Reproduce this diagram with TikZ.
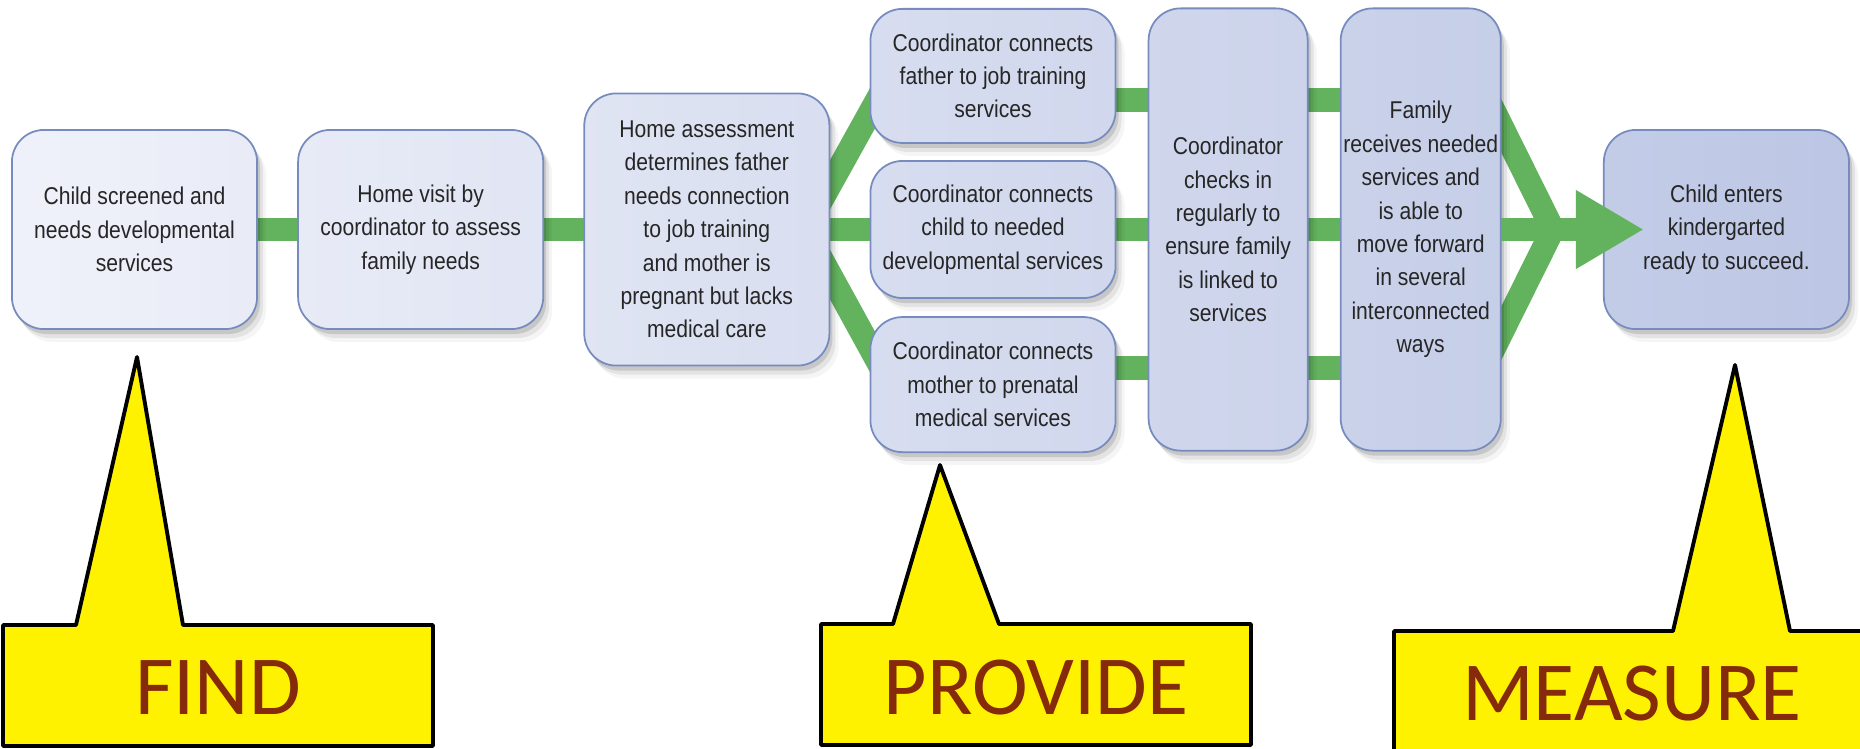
\documentclass[tikz,border=0pt]{standalone}
\usepackage{fontspec}
\newfontfamily\boxfont{Liberation Sans}[FakeStretch=0.87]
\newfontfamily\tagfont{Carlito}
\usetikzlibrary{positioning,backgrounds,shadows,arrows.meta}

\definecolor{boxhi}{RGB}{240,242,250}
\definecolor{boxlo}{RGB}{188,198,228}
\definecolor{boxedge}{RGB}{118,140,190}
\definecolor{boxtext}{RGB}{38,38,38}
\definecolor{linkgreen}{RGB}{98,178,94}
\definecolor{tagred}{RGB}{134,42,12}

\tikzset{
  boxshadow/.style={
    drop shadow={shadow xshift=0.03cm, shadow yshift=-0.05cm, opacity=0.12, fill=black},
    drop shadow={shadow xshift=0.06cm, shadow yshift=-0.09cm, opacity=0.07, fill=black},
    drop shadow={shadow xshift=0.09cm, shadow yshift=-0.13cm, opacity=0.04, fill=black}},
  stage/.style={draw=boxedge, line width=0.5pt, rounded corners=0.32cm, align=center,
    inner sep=0pt, outer sep=0pt, text=boxtext, font=\boxfont\fontsize{6.9pt}{9.5pt}\selectfont, boxshadow},
  boxtint/.style 2 args={left color=boxlo!#1!boxhi, right color=boxlo!#2!boxhi},
  wide/.style={minimum width=2.45cm},
  slim/.style={minimum width=1.59cm, minimum height=4.42cm},
  link/.style={draw=linkgreen, line width=6.8pt},
  tagbox/.style={fill=yellow, draw=black, line width=1.1pt, line join=round},
  tagtext/.style={text=tagred, font=\tagfont\fontsize{23.9pt}{28pt}\selectfont}
}

\begin{document}
\begin{tikzpicture}[x=0.01cm, y=-0.01cm]
  \useasboundingbox (0,0) rectangle (1860,748);
  \clip (0,0) rectangle (1860,748);

  % steps
  \node[stage, wide, boxtint={1}{14}, minimum height=1.99cm] (screen) at (134.5,229.5)
    {Child screened and\\needs developmental\\services};
  \node[stage, wide, boxtint={16}{29}, minimum height=1.99cm, right=0.41cm of screen] (visit)
    {Home visit by\\coordinator to assess\\family needs};
  \node[stage, wide, boxtint={31}{45}, minimum height=2.72cm, right=0.41cm of visit] (assess)
    {Home assessment\\determines father\\needs connection\\to job training\\and mother is\\pregnant but lacks\\medical care};
  \node[stage, wide, boxtint={47}{60}, minimum height=1.37cm, right=0.41cm of assess] (child)
    {Coordinator connects\\child to needed\\developmental services};
  \node[stage, wide, boxtint={47}{60}, minimum height=1.34cm, above=0.18cm of child] (father)
    {Coordinator connects\\father to job training\\services};
  \node[stage, wide, boxtint={47}{60}, minimum height=1.35cm, below=0.19cm of child] (mother)
    {Coordinator connects\\mother to prenatal\\medical services};
  \node[stage, slim, boxtint={62}{70}, right=0.33cm of child] (checkin)
    {Coordinator\\checks in\\regularly to\\ensure family\\is linked to\\services};
  \node[stage, slim, boxtint={72}{81}, minimum width=1.60cm, right=0.33cm of checkin] (family)
    {Family\\receives needed\\services and\\is able to\\move forward\\in several\\interconnected\\ways};
  \node[stage, wide, boxtint={86}{99}, minimum height=1.99cm, right=1.03cm of family] (ready)
    {Child enters\\kindergarted\\ready to succeed.};

  % green links behind the boxes
  \coordinate (jobbar) at ([shift={(0,24)}]father.east);
  \coordinate (carebar) at ([shift={(0,-17)}]mother.east);
  \coordinate (merge) at ([shift={(52,0)}]family.east);
  \begin{scope}[on background layer]
    \fill[white] (0,0) rectangle (1860,748);
    \draw[link] (screen) -- (visit);
    \draw[link] (visit) -- (assess);
    \draw[link] (assess) -- (child);
    \draw[link] ([shift={(-17,-13)}]assess.east) -- ([shift={(20,0)}]father.west);
    \draw[link] ([shift={(-17,13)}]assess.east) -- ([shift={(20,0)}]mother.west);
    \draw[link] (jobbar) -- (jobbar -| family.west);
    \draw[link] (child) -- (family);
    \draw[link] (carebar) -- (carebar -| family.west);
    \draw[link] ([shift={(-20,-145)}]family.east) -- (merge);
    \draw[link] ([shift={(-20,145)}]family.east) -- (merge);
  \end{scope}
  \draw[link, -{Triangle[length=0.68cm, width=0.74cm]}] (family.east) -- ([shift={(40,0)}]ready.west);

  % callouts
  \draw[tagbox] (3,746) -- (3,625) -- (76,625) -- (137,357) -- (183,625) -- (433,625) -- (433,746) -- cycle;
  \node[tagtext] (find) at (218,688) {FIND};
  \draw[tagbox] (821,745) -- (821,624) -- (893,624) -- (940,465) -- (999,624) -- (1251,624) -- (1251,745) -- cycle;
  \node[tagtext] (provide) at (1036,688) {PROVIDE};
  \draw[tagbox] (1394,770) -- (1394,631) -- (1673,631) -- (1735,365) -- (1790,631) -- (1880,631) -- (1880,770) -- cycle;
  \node[tagtext] (measure) at (1632,694) {MEASURE};
\end{tikzpicture}
\end{document}
